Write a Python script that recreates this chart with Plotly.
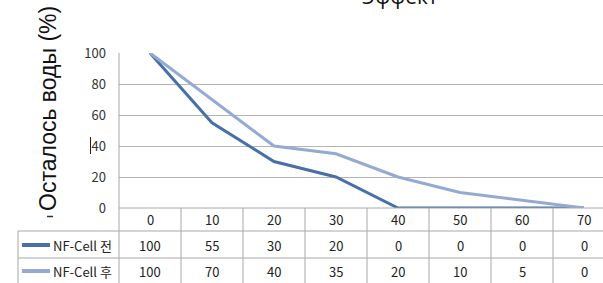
import plotly.graph_objects as go

categories = [0, 10, 20, 30, 40, 50, 60, 70]
series_names = ["NF-Cell 전", "NF-Cell 후"]
before_values = [100, 55, 30, 20, 0, 0, 0, 0]
after_values = [100, 70, 40, 35, 20, 10, 5, 0]
y_ticks = [0, 20, 40, 60, 80, 100]
title_text = "Эффект"
y_title = "Осталось воды (%)"

colors = ["#4770A9", "#95AAD3"]
series = [before_values, after_values]

OFF = 0  # body margin removed by post_script
W, H = 603, 283
L, T, B_PIX = 119 - OFF, 53 - OFF, 208 - OFF
plot_h = B_PIX - T
col_w = 62.0
x_idx = list(range(len(categories)))
x_max = -0.5 + (W - L) / col_w


def py(p):
    return (B_PIX - (p - OFF)) / plot_h


def px(p):
    return ((p - OFF) - L) / (W - L)


fig = go.Figure()
for name, vals, c in zip(series_names, series, colors):
    fig.add_trace(go.Scatter(x=x_idx, y=vals, mode="lines", name=name,
                             line=dict(color=c, width=3), cliponaxis=False,
                             showlegend=False))

grid_c = "#B4B4B4"
tbl_c = "#A8A8A8"
shapes = []
shapes.append(dict(type="line", xref="paper", yref="paper", x0=0, x1=1,
                   y0=0, y1=0, line=dict(color=tbl_c, width=1)))
for yp in (231, 258):
    shapes.append(dict(type="line", xref="paper", yref="paper", x0=px(18), x1=1,
                       y0=py(yp), y1=py(yp), line=dict(color=tbl_c, width=1)))
shapes.append(dict(type="line", xref="paper", yref="paper", x0=px(18), x1=px(18),
                   y0=py(231), y1=py(300), line=dict(color=tbl_c, width=1)))
shapes.append(dict(type="line", xref="paper", yref="paper", x0=0, x1=0,
                   y0=1, y1=py(300), line=dict(color=tbl_c, width=1)))
for i in range(len(categories) - 1):
    xv = i + 0.5
    shapes.append(dict(type="line", xref="x", yref="paper", x0=xv, x1=xv,
                       y0=0, y1=py(300), line=dict(color=tbl_c, width=1)))
for r, c in zip((245, 271), colors):
    shapes.append(dict(type="line", xref="paper", yref="paper", x0=px(22), x1=px(50),
                       y0=py(r), y1=py(r), line=dict(color=c, width=4)))
# small stray marks seen in the original
shapes.append(dict(type="line", xref="paper", yref="paper", x0=px(47), x1=px(53),
                   y0=py(216.5), y1=py(216.5), line=dict(color="#333333", width=1.5)))
shapes.append(dict(type="line", xref="paper", yref="paper", x0=px(90.5), x1=px(90.5),
                   y0=py(137), y1=py(154), line=dict(color="#222222", width=1)))

ann = []
tfont = dict(family="Noto Sans CJK KR, Noto Sans, sans-serif", size=13, color="#222222")
for i, cat in enumerate(categories):
    ann.append(dict(x=i, y=py(219.5), xref="x", yref="paper", text=str(cat),
                    showarrow=False, font=tfont, xanchor="center", yanchor="middle"))
for r, vals in zip((245, 271), series):
    for i, v in enumerate(vals):
        ann.append(dict(x=i, y=py(r), xref="x", yref="paper", text=str(v),
                        showarrow=False, font=tfont, xanchor="center", yanchor="middle"))
for r, name in zip((245, 271), series_names):
    ann.append(dict(x=px(51), y=py(r), xref="paper", yref="paper", text=name,
                    showarrow=False, font=tfont, xanchor="left", yanchor="middle"))
ann.append(dict(x=px(400), y=py(12), xref="paper", yref="paper", text=title_text,
                showarrow=False, xanchor="center", yanchor="bottom",
                font=dict(family="Open Sans, sans-serif", size=21, color="#111111")))
ann.append(dict(x=px(48), y=py(109), xref="paper", yref="paper", text=y_title,
                showarrow=False, textangle=-90, xanchor="center", yanchor="middle",
                font=dict(family="Liberation Sans, Arial, sans-serif", size=23, color="#111111")))

fig.update_layout(
    width=W, height=H,
    margin=dict(l=L, r=0, t=T, b=H - B_PIX, pad=0),
    paper_bgcolor="white", plot_bgcolor="white",
    xaxis=dict(range=[-0.5, x_max], visible=False, showgrid=False, zeroline=False),
    yaxis=dict(range=[0, 100], tickvals=y_ticks, showgrid=True, gridcolor=grid_c,
               gridwidth=1, zeroline=False, showline=False, ticks="",
               ticklabelstandoff=12,
               tickfont=dict(family="Noto Sans CJK KR, Noto Sans, sans-serif", size=13, color="#333333")),
    shapes=shapes, annotations=ann, showlegend=False,
)

fig.write_html("out.html", config={"displayModeBar": False},
               post_script="document.body.style.margin='0';")
